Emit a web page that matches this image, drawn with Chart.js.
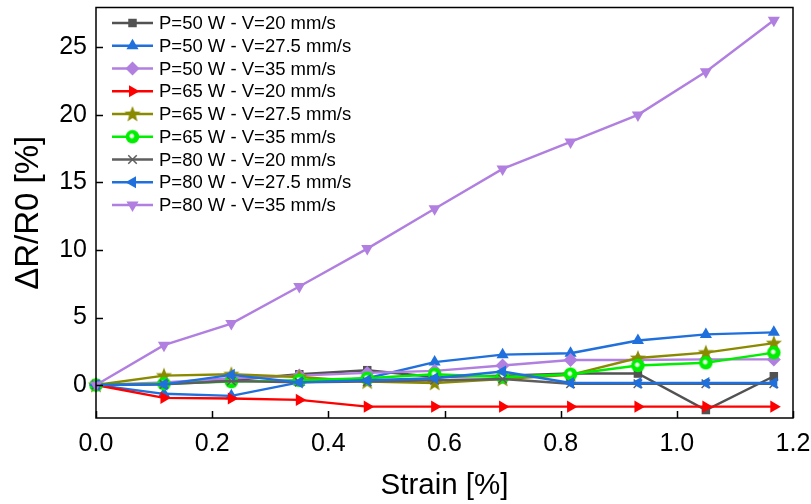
<!DOCTYPE html>
<html>
<head>
<meta charset="utf-8">
<script src="https://cdn.jsdelivr.net/npm/chart.js"></script>
<style>
  body { margin: 0; background: #fff; }
  #wrap { width: 811px; height: 504px; }
</style>
</head>
<body>
<div id="wrap"><canvas id="grafico"></canvas></div>
<script>
// strain values (x) shared by all series
const strain = [0, 0.117, 0.233, 0.35, 0.467, 0.583, 0.7, 0.817, 0.933, 1.05, 1.167];

const p50v20  = [0, 0.1, 0.35, 0.8, 1.1, 0.6, 0.7, 0.85, 0.85, -1.85, 0.65];
const p50v275 = [0, -0.65, -0.8, 0.2, 0.5, 1.7, 2.25, 2.35, 3.3, 3.75, 3.9];
const p50v35  = [0, 0.2, 0.5, 0.7, 0.9, 1.05, 1.45, 1.85, 1.85, 1.9, 1.9];
const p65v20  = [0, -0.95, -1.0, -1.1, -1.6, -1.6, -1.6, -1.6, -1.6, -1.6, -1.6];
const p65v275 = [0, 0.7, 0.8, 0.6, 0.25, 0.15, 0.45, 0.75, 2.0, 2.4, 3.1];
const p65v35  = [0, 0.1, 0.25, 0.35, 0.5, 0.8, 0.6, 0.8, 1.45, 1.65, 2.4];
const p80v20  = [0, 0.05, 0.3, 0.2, 0.25, 0.35, 0.45, 0.1, 0.1, 0.1, 0.1];
const p80v275 = [0, 0.05, 0.75, 0.2, 0.35, 0.5, 1.0, 0.15, 0.15, 0.15, 0.15];
const p80v35  = [0, 2.95, 4.55, 7.3, 10.1, 13.05, 16.0, 18.0, 20.0, 23.2, 27.0];

const labels = [
  'P=50 W - V=20 mm/s', 'P=50 W - V=27.5 mm/s', 'P=50 W - V=35 mm/s',
  'P=65 W - V=20 mm/s', 'P=65 W - V=27.5 mm/s', 'P=65 W - V=35 mm/s',
  'P=80 W - V=20 mm/s', 'P=80 W - V=27.5 mm/s', 'P=80 W - V=35 mm/s'
];
const series = [p50v20, p50v275, p50v35, p65v20, p65v275, p65v35, p80v20, p80v275, p80v35];

const xTicks = [0, 0.2, 0.4, 0.6, 0.8, 1.0, 1.2];
const yTicks = [0, 5, 10, 15, 20, 25];

const FONTE = '"Liberation Sans", Arial, sans-serif';

// marcadores especiais (estrela e esfera)
function fazerEstrela(cor) {
  const c = document.createElement('canvas');
  c.width = 18; c.height = 18;
  const g = c.getContext('2d');
  g.beginPath();
  for (let i = 0; i < 10; i++) {
    const r = i % 2 === 0 ? 8.5 : 3.6;
    const a = -Math.PI / 2 + i * Math.PI / 5;
    const px = 9 + r * Math.cos(a), py = 9.5 + r * Math.sin(a);
    if (i === 0) g.moveTo(px, py); else g.lineTo(px, py);
  }
  g.closePath();
  g.fillStyle = cor;
  g.fill();
  return c;
}
function fazerEsfera(cor) {
  const c = document.createElement('canvas');
  c.width = 15; c.height = 15;
  const g = c.getContext('2d');
  const grad = g.createRadialGradient(6.5, 6.5, 0.3, 7.5, 7.5, 7);
  grad.addColorStop(0, '#ffffff');
  grad.addColorStop(0.22, '#ccffcc');
  grad.addColorStop(0.4, cor);
  grad.addColorStop(1, cor);
  g.beginPath();
  g.arc(7.5, 7.5, 6.8, 0, Math.PI * 2);
  g.fillStyle = grad;
  g.fill();
  return c;
}

const estilos = [
  { cor: '#525252', ponto: 'rect', rot: 0, r: 6 },
  { cor: '#1f6fdc', ponto: 'triangle', rot: 0, r: 7 },
  { cor: '#b07fe0', ponto: 'rectRot', rot: 0, r: 7 },
  { cor: '#ff0000', ponto: 'triangle', rot: 90, r: 7 },
  { cor: '#8a8a00', ponto: fazerEstrela('#8a8a00'), rot: 0, r: 7 },
  { cor: '#00ee00', ponto: fazerEsfera('#00ee00'), rot: 0, r: 7 },
  { cor: '#5e5e5e', ponto: 'crossRot', rot: 0, r: 6 },
  { cor: '#1f6fdc', ponto: 'triangle', rot: -90, r: 7 },
  { cor: '#b07fe0', ponto: 'triangle', rot: 180, r: 7 }
];

const datasets = series.map(function (ys, k) {
  const e = estilos[k];
  return {
    label: labels[k],
    data: strain.map(function (x, i) { return { x: x, y: ys[i] }; }),
    borderColor: e.cor,
    backgroundColor: e.cor,
    borderWidth: 2.4,
    pointStyle: e.ponto,
    pointRotation: e.rot,
    pointRadius: e.r,
    pointBorderWidth: e.ponto === 'crossRot' ? 1.5 : 0,
    pointBorderColor: e.cor,
    tension: 0,
    clip: 8,
    order: -k
  };
});

function semPadding(s) {
  s.paddingLeft = 0; s.paddingRight = 0; s.paddingTop = 0; s.paddingBottom = 0;
}

// moldura, ticks para dentro e legenda
const moldura = {
  id: 'moldura',
  afterDraw: function (chart) {
    const ctx = chart.ctx;
    const a = chart.chartArea;
    const sx = chart.scales.x, sy = chart.scales.y;
    ctx.save();
    ctx.strokeStyle = '#000';
    ctx.lineWidth = 1.5;
    ctx.strokeRect(a.left, a.top, a.right - a.left, a.bottom - a.top);
    ctx.beginPath();
    xTicks.forEach(function (v) {
      const px = Math.round(sx.getPixelForValue(v)) + 0.5;
      ctx.moveTo(px, a.bottom); ctx.lineTo(px, a.bottom - 7);
    });
    yTicks.forEach(function (v) {
      const py = Math.round(sy.getPixelForValue(v)) + 0.5;
      ctx.moveTo(a.left, py); ctx.lineTo(a.left + 7, py);
    });
    ctx.stroke();

    // legenda
    ctx.font = '18.5px ' + FONTE;
    ctx.textBaseline = 'middle';
    ctx.textAlign = 'left';
    chart.data.datasets.forEach(function (ds, i) {
      const y = 23 + i * 22.75;
      ctx.strokeStyle = ds.borderColor;
      ctx.lineWidth = 2.4;
      ctx.beginPath();
      ctx.moveTo(112, y); ctx.lineTo(153, y);
      ctx.stroke();
      ctx.fillStyle = ds.backgroundColor;
      ctx.lineWidth = ds.pointBorderWidth || 1;
      Chart.helpers.drawPoint(ctx, {
        pointStyle: ds.pointStyle, rotation: ds.pointRotation,
        radius: ds.pointRadius, borderWidth: ds.pointBorderWidth
      }, 132.5, y);
      ctx.fillStyle = '#000';
      ctx.fillText(ds.label, 159, y + 1);
    });
    ctx.restore();
  }
};

new Chart(document.getElementById('grafico'), {
  type: 'line',
  data: { datasets: datasets },
  options: {
    responsive: true,
    maintainAspectRatio: false,
    animation: false,
    layout: { padding: { left: 0, top: 7, right: 18, bottom: 0 } },
    plugins: { legend: { display: false }, tooltip: { enabled: false } },
    scales: {
      x: {
        type: 'linear',
        min: 0,
        max: 1.2,
        grid: { display: false },
        border: { display: false },
        afterBuildTicks: function (s) { s.ticks = xTicks.map(function (v) { return { value: v }; }); },
        afterFit: function (s) { s.height = 86; semPadding(s); },
        ticks: {
          color: '#000',
          padding: 3,
          maxRotation: 0,
          font: { family: FONTE, size: 25 },
          callback: function (v) { return Number(v).toFixed(1); }
        },
        title: {
          display: true,
          text: 'Strain [%]',
          color: '#000',
          font: { family: FONTE, size: 29.5 },
          padding: { top: 0, bottom: 0 }
        }
      },
      y: {
        type: 'linear',
        min: -2.44,
        max: 27.95,
        grid: { display: false },
        border: { display: false },
        afterBuildTicks: function (s) { s.ticks = yTicks.map(function (v) { return { value: v }; }); },
        afterFit: function (s) { s.width = 96; semPadding(s); },
        ticks: {
          color: '#000',
          padding: 1,
          font: { family: FONTE, size: 25 }
        },
        title: {
          display: true,
          text: 'ΔR/R0 [%]',
          color: '#000',
          font: { family: FONTE, size: 33 },
          padding: { top: 9, bottom: 0 }
        }
      }
    }
  },
  plugins: [moldura]
});
</script>
</body>
</html>
